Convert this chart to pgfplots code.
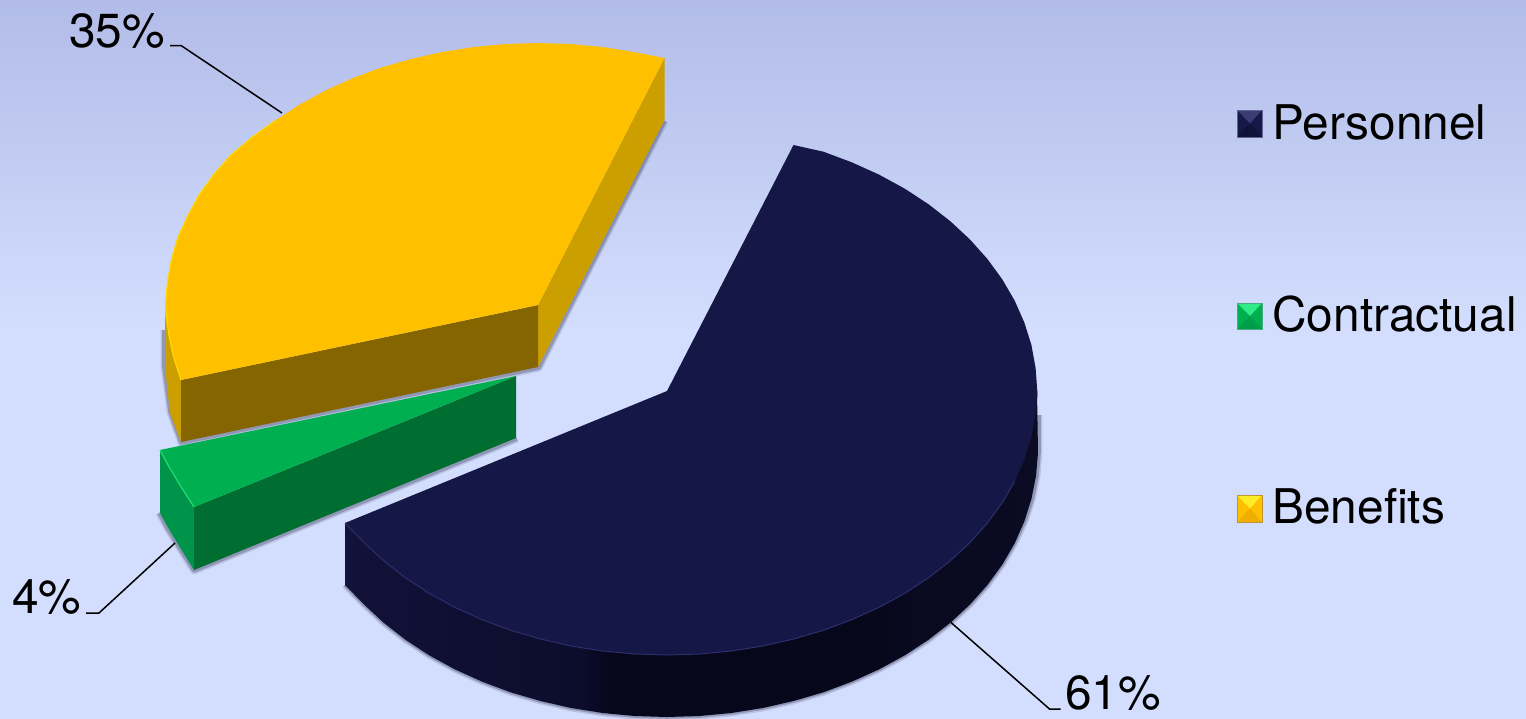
\documentclass[border=0pt]{standalone}
\usepackage{pgfplots}
\usepackage{fontspec}
\setmainfont{TeX Gyre Heros}
\pgfplotsset{compat=1.18}

% Backdrop: periwinkle at the top fading to pale blue
\pgfdeclareverticalshading{backdrop}{100bp}{
  rgb(0bp)=(0.827,0.871,0.996);
  rgb(25bp)=(0.827,0.871,0.996);
  rgb(52bp)=(0.827,0.871,0.996);
  rgb(75bp)=(0.698,0.737,0.910);
  rgb(100bp)=(0.698,0.737,0.910)}
% Rim of the large slice: dark band with a step near the middle
\pgfdeclarehorizontalshading{navyrim}{100bp}{
  rgb(0bp)=(0.071,0.071,0.227);
  rgb(25bp)=(0.071,0.071,0.227);
  rgb(42bp)=(0.047,0.047,0.173);
  rgb(44bp)=(0.027,0.027,0.110);
  rgb(60bp)=(0.027,0.027,0.106);
  rgb(75bp)=(0.043,0.043,0.141);
  rgb(100bp)=(0.043,0.043,0.141)}

\definecolor{navytop}{RGB}{21,23,70}
\definecolor{navyedge}{RGB}{46,46,106}
\definecolor{goldtop}{RGB}{255,192,0}
\definecolor{goldcut}{RGB}{133,101,0}
\definecolor{goldrim}{RGB}{204,159,0}
\definecolor{goldedge}{RGB}{255,216,0}
\definecolor{greentop}{RGB}{0,176,80}
\definecolor{greencut}{RGB}{0,110,48}
\definecolor{greenrim}{RGB}{0,148,74}
\definecolor{greenedge}{RGB}{30,220,112}
\definecolor{shadowtone}{RGB}{50,50,80}
% bevelled legend keys: face, upper facet, lower facet, border
\definecolor{keyNf}{RGB}{22,24,72}
\definecolor{keyNu}{RGB}{58,60,115}
\definecolor{keyNl}{RGB}{17,18,58}
\definecolor{keyNb}{RGB}{95,100,150}
\definecolor{keyCf}{RGB}{0,176,80}
\definecolor{keyCu}{RGB}{48,235,135}
\definecolor{keyCl}{RGB}{0,158,72}
\definecolor{keyCb}{RGB}{70,170,130}
\definecolor{keyBf}{RGB}{255,192,0}
\definecolor{keyBu}{RGB}{255,236,40}
\definecolor{keyBl}{RGB}{240,175,0}
\definecolor{keyBb}{RGB}{190,150,50}

\pgfplotsset{
  softshadow/.style={draw=shadowtone, draw opacity=#1, fill=none, line join=round},
  face/.style={draw=none, fill=#1},
  leader/.style={draw=black, line width=0.75pt, line join=miter},
  swatchborder/.style={draw=#1, line width=0.4pt, fill=none}
}
\newcommand{\lab}{\fontsize{23.9}{28}\selectfont}

\begin{document}
\begin{tikzpicture}
\begin{axis}[
  scale only axis, width=763pt, height=359pt,
  xmin=0, xmax=1526, ymin=0, ymax=718, y dir=reverse,
  hide axis, no markers, clip=true
]
% backdrop
\addplot[draw=none, shading=backdrop] coordinates {(0,0)(1526,0)(1526,718)(0,718)} -- cycle;

% --- soft shadows round the lower edges ---
\addplot[softshadow=0.16, line width=3.4pt] coordinates {(665,121)(539,368)(181,443)(170,412)(164,367)(164,330)};
\addplot[softshadow=0.3, line width=1.8pt] coordinates {(665,121)(539,368)(181,443)(170,412)(164,367)(164,330)};
\addplot[softshadow=0.16, line width=3.4pt] coordinates {(517,439)(194,571)(180,549)(167,528)(159,513)};
\addplot[softshadow=0.3, line width=1.8pt] coordinates {(517,439)(194,571)(180,549)(167,528)(159,513)};
\addplot[softshadow=0.16, line width=3.4pt] coordinates {(345,585)(363.9,604.4)(383.6,622.7)(405.4,639.7)(429,655.2)(454.8,669.3)(482,681.6)(510.6,692.3)(540.5,701)(571.2,708)(602.8,713)(634.7,716)(667,717)(699.3,716)(731.2,713)(762.8,708)(793.5,701)(823.4,692.3)(852,681.6)(879.2,669.3)(905,655.2)(928.6,639.7)(950.4,622.7)(970.1,604.4)(987.4,585)(1002.3,564.6)(1014.7,543.3)(1024.9,521.3)(1032.4,499)(1037,476)(1039,453)(1039,415)};
\addplot[softshadow=0.3, line width=1.8pt] coordinates {(345,585)(363.9,604.4)(383.6,622.7)(405.4,639.7)(429,655.2)(454.8,669.3)(482,681.6)(510.6,692.3)(540.5,701)(571.2,708)(602.8,713)(634.7,716)(667,717)(699.3,716)(731.2,713)(762.8,708)(793.5,701)(823.4,692.3)(852,681.6)(879.2,669.3)(905,655.2)(928.6,639.7)(950.4,622.7)(970.1,604.4)(987.4,585)(1002.3,564.6)(1014.7,543.3)(1024.9,521.3)(1032.4,499)(1037,476)(1039,453)(1039,415)};

% --- Benefits, 35% ---
\addplot[face=goldrim] coordinates {(538,305)(664.5,58)(664.5,120)(538,367)} -- cycle;
\addplot[face=goldrim] coordinates {(165.5,305)(167,322)(169,335)(173,355)(181,380)(181,442)(170,413)(165,367)(165,330)} -- cycle;
\addplot[face=goldcut] coordinates {(538,305)(538,367)(181,442)(181,380)} -- cycle;
\addplot[face=goldtop] coordinates {(538,305)(664.5,58)(633.8,52)(602.3,47)(570.3,44)(538,43)(505.7,44)(473.7,47)(442.2,52)(411.5,58.8)(381.6,67.5)(353,78)(325.8,90.4)(300.1,104.3)(276.4,119.7)(253,136.6)(231,155)(214,174)(199,195)(188,215.4)(178,237)(171.5,259.5)(167.5,282)(165.5,305)(167,322)(169,335)(173,355)(181,380)} -- cycle;
\addplot[draw=goldedge, line width=0.6pt] coordinates {(276.4,119.7)(253,136.6)(231,155)(214,174)(199,195)(188,215.4)(178,237)(171.5,259.5)(167.5,282)(165.5,305)(167,322)(169,335)(173,355)(181,380)};

% --- Contractual, 4% ---
\addplot[face=greenrim] coordinates {(160,450)(168.3,465.6)(181,486.7)(194,507)(194,570)(181,549)(168.3,528)(160,513)} -- cycle;
\addplot[face=greencut] coordinates {(516,376)(516,438)(194,570)(194,507)} -- cycle;
\addplot[face=greentop] coordinates {(516,376)(160,450)(168.3,465.6)(181,486.7)(194,507)} -- cycle;
\addplot[draw=greenedge, line width=0.6pt] coordinates {(160,450)(168.3,465.6)(181,486.7)(194,507)};

% --- Personnel, 61% ---
\addplot[draw=none, shading=navyrim] coordinates {(1037,391)(1038,453)(1036,476)(1031.4,499)(1024.4,521.3)(1014.7,543.3)(1002.3,564.6)(987.4,585)(970.1,604.4)(950.4,622.7)(928.6,639.7)(905,655.2)(879.2,669.3)(852,681.6)(823.4,692.3)(793.5,701)(762.8,708)(731.2,713)(699.3,716)(667,717)(634.7,716)(602.8,713)(571.2,708)(540.5,701)(510.6,692.3)(482,681.6)(454.8,669.3)(429,655.2)(405.4,639.7)(383.6,622.7)(363.9,604.4)(345,585)(345,523)(667,500)} -- cycle;
\addplot[face=navytop] coordinates {(667,391)(793.5,145)(823.4,151.7)(852,162.4)(879.2,174.7)(905,188.8)(928.6,204.3)(950.4,221.3)(970.1,239.6)(987.4,259)(1002.3,279.4)(1014.7,300.7)(1024.4,322.7)(1031.4,345)(1035.6,368)(1037.5,394)(1035.6,414)(1031.4,437)(1024.4,459.3)(1014.7,481.3)(1002.3,502.6)(987.4,523)(970.1,542.4)(950.4,560.7)(928.6,577.7)(905,593.2)(879.2,607.3)(852,619.6)(823.4,630.3)(793.5,639)(762.8,646)(731.2,651)(699.3,654)(667,655)(634.7,654)(602.8,651)(571.2,646)(540.5,639)(510.6,630.3)(482,619.6)(454.8,607.3)(429,593.2)(405.4,577.7)(383.6,560.7)(363.9,542.4)(345,523)} -- cycle;
\addplot[draw=navyedge, line width=0.5pt] coordinates {(345,523)(363.9,542.4)(383.6,560.7)(405.4,577.7)(429,593.2)(454.8,607.3)(482,619.6)(510.6,630.3)(540.5,639)(571.2,646)(602.8,651)(634.7,654)(667,655)(699.3,654)(731.2,651)(762.8,646)(793.5,639)(823.4,630.3)(852,619.6)(879.2,607.3)(905,593.2)(928.6,577.7)(950.4,560.7)(970.1,542.4)(987.4,523)(1002.3,502.6)(1014.7,481.3)};

% --- leader lines ---
\addplot[leader] coordinates {(170,45.5)(181,45.5)(282,113)};
\addplot[leader] coordinates {(86,613)(99,613)(175,543)};
\addplot[leader] coordinates {(951,622.5)(1049.5,709)(1060.5,709)};

% --- legend keys, bevelled ---
% Personnel
\addplot[face=keyNf] coordinates {(1237,110)(1262,110)(1262,137)(1237,137)} -- cycle;
\addplot[face=keyNu] coordinates {(1237,110)(1262,110)(1250,123.5)} -- cycle;
\addplot[face=keyNl] coordinates {(1237,137)(1262,137)(1250,123.5)} -- cycle;
\addplot[swatchborder=keyNb] coordinates {(1237,110)(1262,110)(1262,137)(1237,137)} -- cycle;
% Contractual
\addplot[face=keyCf] coordinates {(1237,303)(1262,303)(1262,329)(1237,329)} -- cycle;
\addplot[face=keyCu] coordinates {(1237,303)(1262,303)(1250,316)} -- cycle;
\addplot[face=keyCl] coordinates {(1237,329)(1262,329)(1250,316)} -- cycle;
\addplot[swatchborder=keyCb] coordinates {(1237,303)(1262,303)(1262,329)(1237,329)} -- cycle;
% Benefits
\addplot[face=keyBf] coordinates {(1237,495)(1262,495)(1262,522)(1237,522)} -- cycle;
\addplot[face=keyBu] coordinates {(1237,495)(1262,495)(1250,508.5)} -- cycle;
\addplot[face=keyBl] coordinates {(1237,522)(1262,522)(1250,508.5)} -- cycle;
\addplot[swatchborder=keyBb] coordinates {(1237,495)(1262,495)(1262,522)(1237,522)} -- cycle;

% --- text ---
\node[anchor=base west, inner sep=0pt, font=\lab] at (axis cs:1272,139) {Personnel};
\node[anchor=base west, inner sep=0pt, font=\lab] at (axis cs:1272,331) {Contractual};
\node[anchor=base west, inner sep=0pt, font=\lab] at (axis cs:1272,523) {Benefits};
\node[anchor=base west, inner sep=0pt, font=\lab] at (axis cs:69,47) {35\%};
\node[anchor=base west, inner sep=0pt, font=\lab] at (axis cs:12,613) {4\%};
\node[anchor=base west, inner sep=0pt, font=\lab] at (axis cs:1065,709) {61\%};
\end{axis}
\end{tikzpicture}
\end{document}
